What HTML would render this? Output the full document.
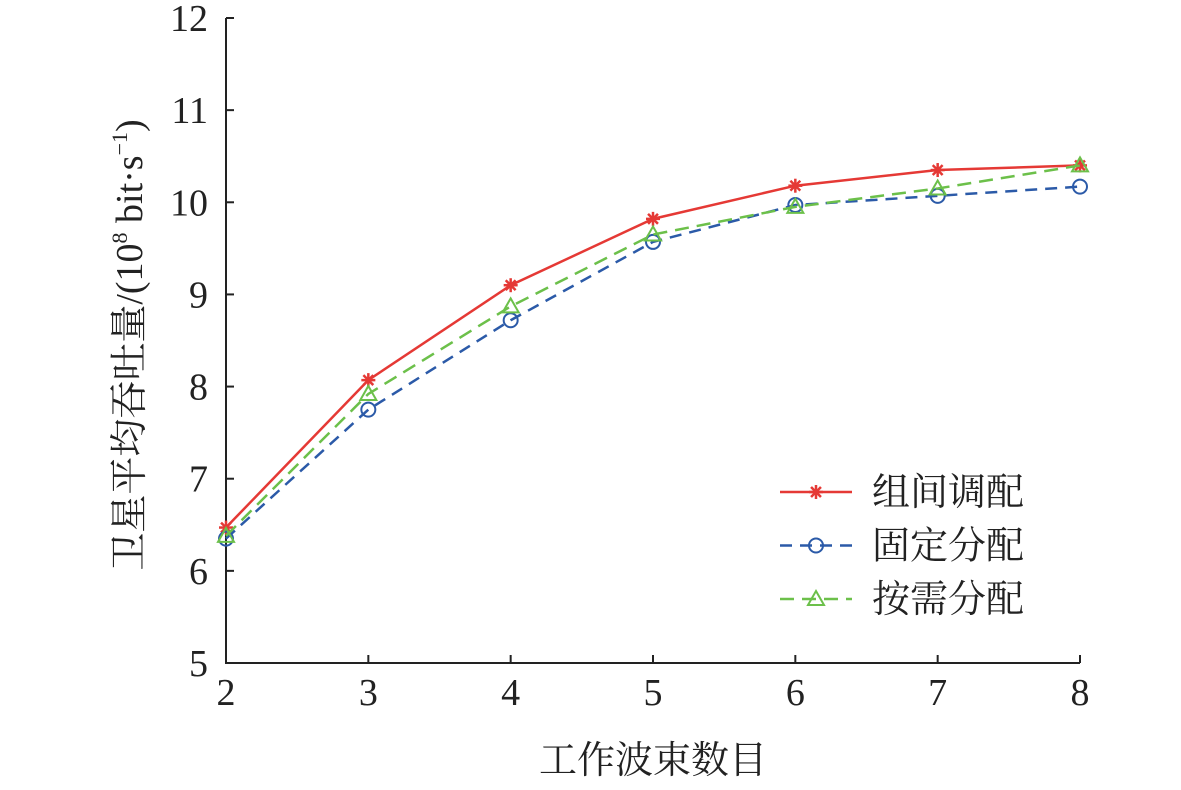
<!DOCTYPE html>
<html><head><meta charset="utf-8"><style>
body{margin:0;background:#fff}
text{font-family:"Liberation Serif","Noto Serif CJK SC",serif;fill:#222}
</style></head><body>
<svg id="chart" width="1181" height="785" xmlns="http://www.w3.org/2000/svg"></svg>
<script>
const categories=[2,3,4,5,6,7,8];
const seriesGroup=[6.47,8.07,9.1,9.82,10.18,10.35,10.4];
const seriesFixed=[6.35,7.75,8.72,9.57,9.97,10.07,10.17];
const seriesDemand=[6.38,7.92,8.87,9.65,9.95,10.15,10.4];
const yTicks=[5,6,7,8,9,10,11,12];
const NS="http://www.w3.org/2000/svg";
const svg=document.getElementById('chart');
const X0=226,X1=1080,Y0=663,Y1=18;
const xs=v=>X0+(v-2)/(8-2)*(X1-X0);
const ys=v=>Y0-(v-5)/(12-5)*(Y0-Y1);
function mk(t,a,p){const e=document.createElementNS(NS,t);for(const k in a)e.setAttribute(k,a[k]);(p||svg).appendChild(e);return e;}
let ax=mk('path',{d:`M${X0},${Y1}V${Y0}H${X1}`,stroke:'#222','stroke-width':2,fill:'none'});


categories.forEach(c=>{
 let t=mk('line',{x1:xs(c),x2:xs(c),y1:Y0,y2:Y0-8,stroke:'#222','stroke-width':2});
 
 
 let l=mk('text',{x:xs(c),y:Y0+42,'text-anchor':'middle','font-size':38});l.textContent=c;
 
 
});
yTicks.forEach(v=>{
 let t=mk('line',{x1:X0,x2:X0+8,y1:ys(v),y2:ys(v),stroke:'#222','stroke-width':2});
 
 
 let l=mk('text',{x:X0-18,y:ys(v)+13,'text-anchor':'end','font-size':38});l.textContent=v;
 
 
});
let xt=mk('text',{x:653,y:773,'text-anchor':'middle','font-size':38});xt.textContent='工作波束数目';


let yt=mk('text',{x:0,y:0,'text-anchor':'middle','font-size':38,transform:`translate(142,345) rotate(-90)`});
yt.innerHTML='卫星平均吞吐量/(10<tspan font-size="22" dy="-15">8</tspan><tspan dy="15"> bit·s</tspan><tspan font-size="22" dy="-15">−1</tspan><tspan dy="15">)</tspan>';


function marker(type,x,y,col,g){
 if(type==='star'){for(let a=0;a<180;a+=45){const r=a*Math.PI/180;mk('line',{x1:x-7*Math.cos(r),y1:y-7*Math.sin(r),x2:x+7*Math.cos(r),y2:y+7*Math.sin(r),stroke:col,'stroke-width':2.5},g);}}
 else if(type==='circle')mk('circle',{cx:x,cy:y,r:7,fill:'none',stroke:col,'stroke-width':2},g);
 else mk('path',{d:`M${x},${y-8}L${x+8},${y+6}L${x-8},${y+6}Z`,fill:'none',stroke:col,'stroke-width':2},g);
}
const series=[[seriesGroup,'#e53935','star','','series-group'],[seriesFixed,'#2b5aa8','circle','12 8','series-fixed'],[seriesDemand,'#6cc04a','tri','14 8','series-demand']];
series.forEach(([d,col,m,dash,name])=>{
 const g=mk('g',{});
 
 
 mk('polyline',{points:d.map((v,i)=>xs(categories[i])+','+ys(v)).join(' '),fill:'none',stroke:col,'stroke-width':2.5,'stroke-dasharray':dash},g);
 d.forEach((v,i)=>marker(m,xs(categories[i]),ys(v),col,g));
});
const legNames=['组间调配','固定分配','按需分配'];
series.forEach(([d,col,m,dash],i)=>{
 const g=mk('g',{});
 
 
 const y=492+i*53.5;
 mk('line',{x1:780,x2:852,y1:y,y2:y,stroke:col,'stroke-width':2.5,'stroke-dasharray':dash},g);
 marker(m,816,y,col,g);
 const t=mk('text',{x:872,y:y+13,'font-size':38},g);t.textContent=legNames[i];
});
</script>
</body></html>
